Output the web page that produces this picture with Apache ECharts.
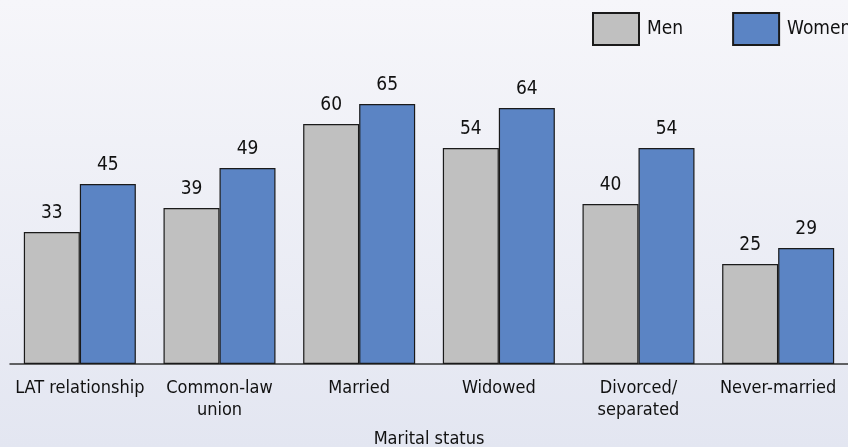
<!DOCTYPE html>
<html>
<head>
<meta charset="utf-8">
<script src="https://cdn.jsdelivr.net/npm/echarts@6/dist/echarts.min.js"></script>
<style>
  html, body { margin: 0; padding: 0; }
  #chart { width: 848px; height: 447px; }
</style>
</head>
<body>
<div id="chart"></div>
<script>
// Share by marital status, men vs women
var categories = ['LAT relationship', 'Common-law\nunion', 'Married', 'Widowed', 'Divorced/\nseparated', 'Never-married'];
var menValues = [33, 39, 60, 54, 40, 25];
var womenValues = [45, 49, 65, 64, 54, 29];
var seriesNames = ['Men', 'Women'];
var axisTitle = 'Marital status';

var FONT = '"Liberation Sans Narrow", "DejaVu Sans Condensed", sans-serif';

var chart = echarts.init(document.getElementById('chart'), null, { renderer: 'canvas' });

function barSeries(name, data, color) {
  return {
    name: name,
    type: 'bar',
    data: data,
    barWidth: 56,
    barGap: '0%',
    itemStyle: { color: color, borderColor: '#1a1a1a', borderWidth: 1.2 },
    label: {
      show: true,
      position: 'top',
      distance: 9,
      color: '#111',
      fontFamily: FONT,
      fontSize: 19
    },
    emphasis: { disabled: true }
  };
}

chart.setOption({
  animation: false,
  backgroundColor: {
    type: 'linear', x: 0, y: 0, x2: 0, y2: 1,
    colorStops: [
      { offset: 0, color: '#f6f6fa' },
      { offset: 1, color: '#e3e6f1' }
    ]
  },
  legend: {
    orient: 'horizontal',
    left: 587,
    top: 7,
    width: 400,
    itemWidth: 46,
    itemHeight: 32,
    itemGap: 49,
    icon: 'rect',
    textStyle: { fontFamily: FONT, fontSize: 19, color: '#111', padding: [0, 0, 0, 3] },
    data: seriesNames
  },
  grid: { left: 10, right: 0, top: 64, bottom: 83, containLabel: false, outerBoundsMode: 'none' },
  xAxis: {
    type: 'category',
    data: categories,
    axisLine: { lineStyle: { color: '#333', width: 1.5 } },
    axisTick: { show: false },
    axisLabel: {
      interval: 0,
      margin: 13,
      color: '#111',
      fontFamily: FONT,
      fontSize: 18,
      lineHeight: 22
    },
    name: axisTitle,
    nameLocation: 'middle',
    nameGap: 66,
    nameTextStyle: { color: '#111', fontFamily: FONT, fontSize: 18 }
  },
  yAxis: {
    type: 'value',
    min: 0,
    max: 75,
    show: false,
    splitLine: { show: false }
  },
  series: [
    barSeries(seriesNames[0], menValues, '#c0c0c0'),
    barSeries(seriesNames[1], womenValues, '#5b84c4')
  ]
});
</script>
</body>
</html>
